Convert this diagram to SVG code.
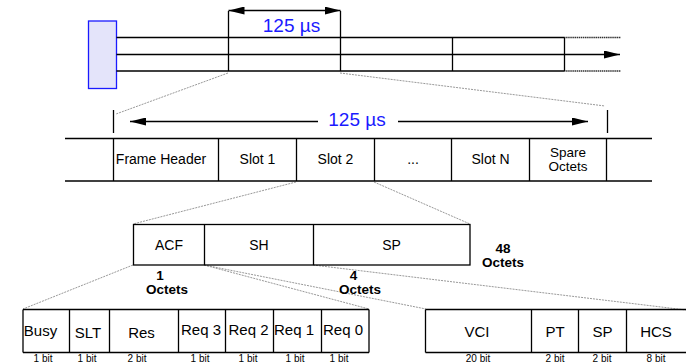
<svg xmlns="http://www.w3.org/2000/svg" width="686" height="364" viewBox="0 0 686 364">
<style>
.ln{stroke:#000;stroke-width:1.3;fill:none}
.dl{stroke:#999;stroke-width:1;stroke-dasharray:2,1;fill:none}
.hl{stroke:#333;stroke-width:1.6;stroke-dasharray:1.5,0.6;fill:none}
.t{font-family:"Liberation Sans",Arial,sans-serif;fill:#000;text-anchor:middle}
.lb{font-size:14px}
.bl{font-size:15px}
.bt{font-size:10px}
.oc{font-size:13.5px;font-weight:bold}
.us{font-family:"Liberation Sans",Arial,sans-serif;font-size:19px;fill:#1a1aff;text-anchor:middle}
</style>
<defs>
<marker id="ah" viewBox="0 0 16 8" refX="16" refY="4" markerWidth="16" markerHeight="8" markerUnits="userSpaceOnUse" orient="auto-start-reverse">
<path d="M0,0 L16,4 L0,8 Z" fill="#000"/>
</marker>
</defs>

<g id="connectors">
<line class="dl" x1="228" y1="73" x2="116" y2="114"/>
<line class="dl" x1="340" y1="73" x2="605" y2="106"/>
<line class="dl" x1="296" y1="182" x2="133" y2="224"/>
<line class="dl" x1="374" y1="182" x2="470" y2="224"/>
<line class="dl" x1="133" y1="265" x2="23" y2="309"/>
<line class="dl" x1="204" y1="265" x2="369" y2="309"/>
<line class="dl" x1="204" y1="265" x2="426" y2="309"/>
<line class="dl" x1="313" y1="265" x2="686" y2="310"/>
</g>

<g id="frame-stream">
<rect x="88.5" y="21" width="28" height="67.5" fill="#e4e4fa" stroke="#1a1aff" stroke-width="1.3"/>
<line class="ln" x1="116.5" y1="37.5" x2="564" y2="37.5"/>
<line class="ln" x1="116.5" y1="71" x2="564" y2="71"/>
<line class="ln" x1="116.5" y1="54.5" x2="620" y2="54.5" marker-end="url(#ah)"/>
<line class="hl" x1="564" y1="37.5" x2="621" y2="37.5"/>
<line class="hl" x1="564" y1="71" x2="621" y2="71"/>
<line class="ln" x1="228.5" y1="11" x2="228.5" y2="71"/>
<line class="ln" x1="340.5" y1="11" x2="340.5" y2="71"/>
<line class="ln" x1="452.5" y1="37.5" x2="452.5" y2="71"/>
<line class="ln" x1="564.5" y1="37.5" x2="564.5" y2="71"/>
<line class="ln" x1="228.5" y1="10.5" x2="340.5" y2="10.5" marker-start="url(#ah)" marker-end="url(#ah)"/>
<text class="us" x="291.5" y="31.5">125 µs</text>
</g>

<g id="frame">
<line class="ln" x1="113.5" y1="110" x2="113.5" y2="133"/>
<line class="ln" x1="607.5" y1="110" x2="607.5" y2="133"/>
<line class="ln" x1="318" y1="121.5" x2="130" y2="121.5" marker-end="url(#ah)"/>
<line class="ln" x1="398" y1="121.5" x2="588" y2="121.5" marker-end="url(#ah)"/>
<text class="us" x="357" y="126">125 µs</text>
<line class="ln" x1="65" y1="138.5" x2="652" y2="138.5"/>
<line class="ln" x1="65" y1="181" x2="652" y2="181"/>
<line class="ln" x1="113.5" y1="138.5" x2="113.5" y2="181"/>
<line class="ln" x1="218.5" y1="138.5" x2="218.5" y2="181"/>
<line class="ln" x1="296.5" y1="138.5" x2="296.5" y2="181"/>
<line class="ln" x1="374.5" y1="138.5" x2="374.5" y2="181"/>
<line class="ln" x1="451.5" y1="138.5" x2="451.5" y2="181"/>
<line class="ln" x1="529.5" y1="138.5" x2="529.5" y2="181"/>
<line class="ln" x1="606.5" y1="138.5" x2="606.5" y2="181"/>
<text class="t lb" x="161" y="164">Frame Header</text>
<text class="t lb" x="257.5" y="164">Slot 1</text>
<text class="t lb" x="335.5" y="164">Slot 2</text>
<text class="t lb" x="413" y="164">...</text>
<text class="t lb" x="490.5" y="164">Slot N</text>
<text class="t" font-size="13.5" x="568" y="157">Spare</text>
<text class="t" font-size="13.5" x="568" y="170.5">Octets</text>
</g>

<g id="slot">
<rect class="ln" x="133.5" y="224.5" width="336.5" height="40.5"/>
<line class="ln" x1="204.5" y1="224.5" x2="204.5" y2="265"/>
<line class="ln" x1="313.5" y1="224.5" x2="313.5" y2="265"/>
<text class="t lb" x="169" y="250">ACF</text>
<text class="t lb" x="259" y="250">SH</text>
<text class="t lb" x="391.5" y="250">SP</text>
<text class="t oc" x="503" y="253">48</text>
<text class="t oc" x="503" y="267">Octets</text>
<text class="t oc" x="160" y="280">1</text>
<text class="t oc" x="167" y="294">Octets</text>
<text class="t oc" x="353.5" y="280">4</text>
<text class="t oc" x="360" y="294">Octets</text>
</g>

<g id="acf">
<line class="ln" x1="23" y1="309.5" x2="369" y2="309.5"/>
<line class="ln" x1="23" y1="352.5" x2="369" y2="352.5"/>
<line class="ln" x1="23" y1="309.5" x2="23" y2="352.5"/>
<line class="ln" x1="69.5" y1="309.5" x2="69.5" y2="352.5"/>
<line class="ln" x1="109.5" y1="309.5" x2="109.5" y2="352.5"/>
<line class="ln" x1="178.5" y1="309.5" x2="178.5" y2="352.5"/>
<line class="ln" x1="225.5" y1="309.5" x2="225.5" y2="352.5"/>
<line class="ln" x1="273.5" y1="309.5" x2="273.5" y2="352.5"/>
<line class="ln" x1="321.5" y1="309.5" x2="321.5" y2="352.5"/>
<line class="ln" x1="369" y1="309.5" x2="369" y2="352.5"/>
<text class="t bl" x="40.5" y="336">Busy</text>
<text class="t bl" x="88" y="338">SLT</text>
<text class="t bl" x="141.5" y="338">Res</text>
<text class="t bl" x="201" y="335">Req 3</text>
<text class="t bl" x="248.5" y="335">Req 2</text>
<text class="t bl" x="294" y="335">Req 1</text>
<text class="t bl" x="343" y="335">Req 0</text>
<text class="t bt" x="43" y="361.5">1 bit</text>
<text class="t bt" x="87" y="361.5">1 bit</text>
<text class="t bt" x="137" y="361.5">2 bit</text>
<text class="t bt" x="200" y="361.5">1 bit</text>
<text class="t bt" x="248" y="361.5">1 bit</text>
<text class="t bt" x="295" y="361.5">1 bit</text>
<text class="t bt" x="339" y="361.5">1 bit</text>
</g>

<g id="sh">
<line class="ln" x1="425.5" y1="309.5" x2="686" y2="309.5"/>
<line class="ln" x1="425.5" y1="352.5" x2="686" y2="352.5"/>
<line class="ln" x1="425.5" y1="309.5" x2="425.5" y2="352.5"/>
<line class="ln" x1="531.5" y1="309.5" x2="531.5" y2="352.5"/>
<line class="ln" x1="578.5" y1="309.5" x2="578.5" y2="352.5"/>
<line class="ln" x1="626.5" y1="309.5" x2="626.5" y2="352.5"/>
<text class="t bl" x="477" y="337">VCI</text>
<text class="t bl" x="555" y="337">PT</text>
<text class="t bl" x="602.5" y="337">SP</text>
<text class="t bl" x="656" y="337">HCS</text>
<text class="t bt" x="478" y="361.5">20 bit</text>
<text class="t bt" x="555" y="361.5">2 bit</text>
<text class="t bt" x="602" y="361.5">2 bit</text>
<text class="t bt" x="656" y="361.5">8 bit</text>
</g>
</svg>
